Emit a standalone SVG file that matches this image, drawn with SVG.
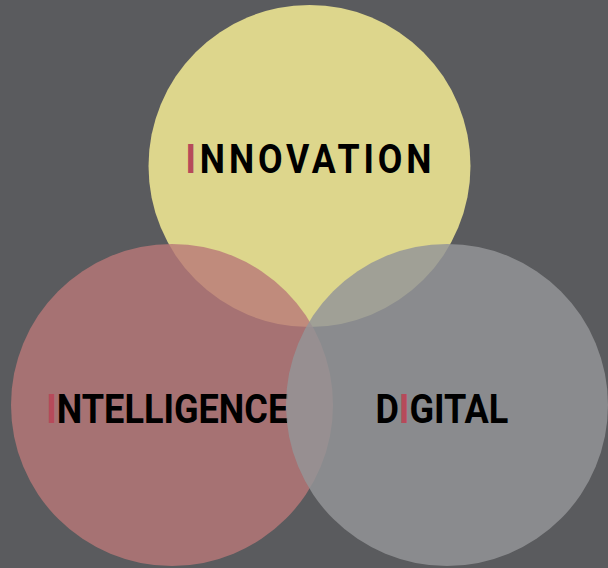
<svg xmlns="http://www.w3.org/2000/svg" width="608" height="568" viewBox="0 0 608 568">
<style>
.lbl{font-family:Roboto,"Liberation Sans",sans-serif;font-weight:bold;font-size:41px;fill:#000}
.hl{fill:#b64a5a}
</style>
<rect width="608" height="568" fill="#5a5b5e"/>
<g id="innovation">
<circle cx="309.5" cy="166" r="161" fill="#ddd68c"/>
<text class="lbl" transform="scale(0.87 1)" x="213.3" y="173.5" letter-spacing="4.45"><tspan class="hl">I</tspan>NNOVATION</text>
</g>
<g id="intelligence">
<circle cx="172" cy="405" r="161" fill="#b97878" fill-opacity="0.8"/>
<text class="lbl" transform="scale(0.88 1)" x="52.6" y="423.5"><tspan class="hl">I</tspan>NTELLIGENCE</text>
</g>
<g id="digital">
<circle cx="447" cy="405" r="161" fill="#949597" fill-opacity="0.83"/>
<text class="lbl" transform="scale(0.88 1)" x="426.6" y="423.5">D<tspan class="hl">I</tspan>GITAL</text>
</g>
<g id="connectors"/>
</svg>
